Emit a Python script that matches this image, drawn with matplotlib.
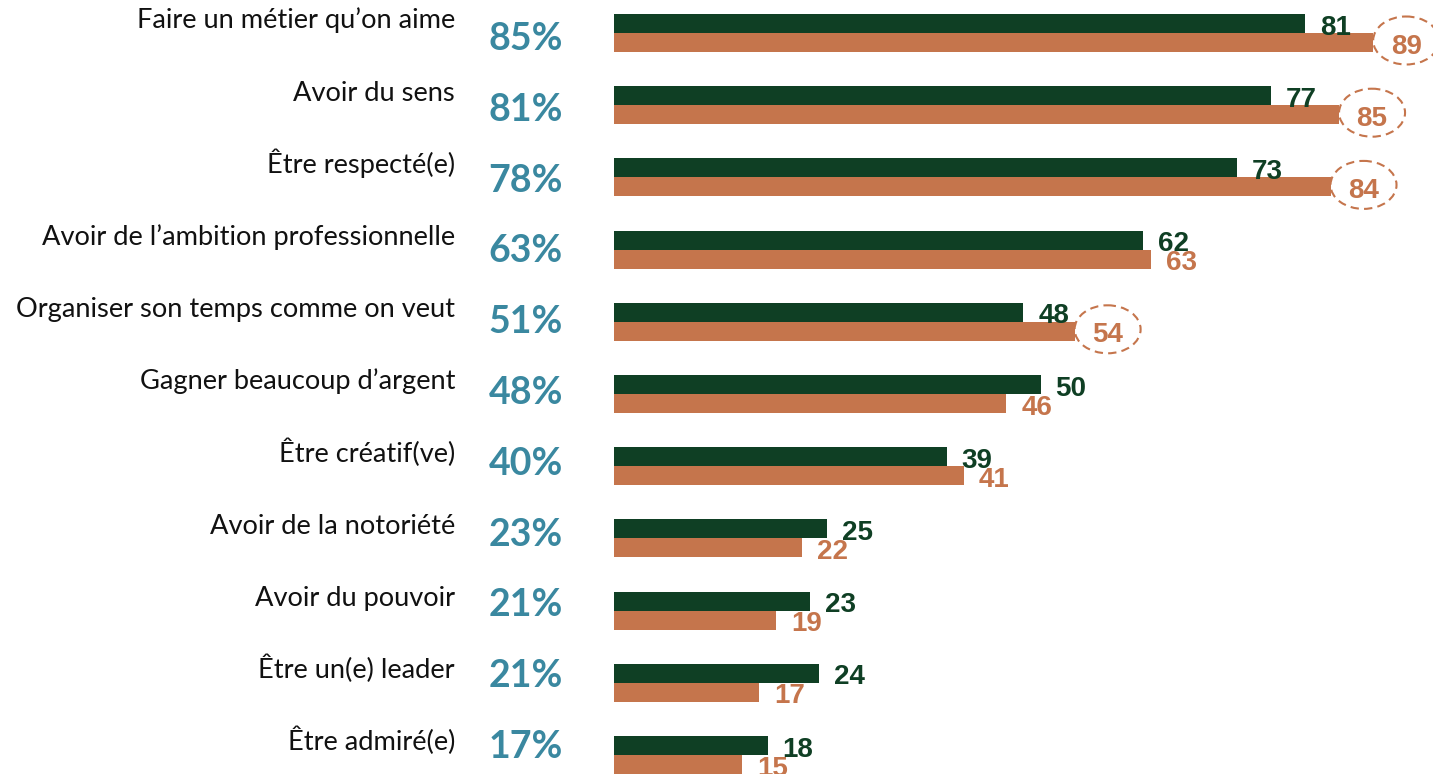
import matplotlib
matplotlib.use("Agg")
import matplotlib.pyplot as plt
from matplotlib import transforms
from matplotlib.patches import Ellipse

# Data
categories = [
    "Faire un métier qu\u2019on aime",
    "Avoir du sens",
    "Être respecté(e)",
    "Avoir de l\u2019ambition professionnelle",
    "Organiser son temps comme on veut",
    "Gagner beaucoup d\u2019argent",
    "Être créatif(ve)",
    "Avoir de la notoriété",
    "Avoir du pouvoir",
    "Être un(e) leader",
    "Être admiré(e)",
]
totals = [85, 81, 78, 63, 51, 48, 40, 23, 21, 21, 17]
green_vals = [81, 77, 73, 62, 48, 50, 39, 25, 23, 24, 18]
orange_vals = [89, 85, 84, 63, 54, 46, 41, 22, 19, 17, 15]
circled = [True, True, True, False, True, False, False, False, False, False, False]

GREEN = "#0f3f24"
ORANGE = "#c5754c"
TEAL = "#3a88a0"

W, H = 1433, 774
fig = plt.figure(figsize=(W / 100, H / 100), dpi=100)

# bar axes: zero at x=614 px, 8.53 px per unit; one row = 72.2 px
px_unit = 8.53
row_px = 72.2
bar_h = 19 / row_px
ax = fig.add_axes([614 / W, 0, 1 - 614 / W, 1])
ax.set_xlim(0, (W - 614) / px_unit)
ax.set_ylim((H - 14) / row_px, -14 / row_px)
ax.axis("off")

rows = list(range(len(categories)))
g_y = [r + bar_h / 2 for r in rows]
o_y = [r + 1.5 * bar_h for r in rows]
ax.barh(g_y, green_vals, height=bar_h, color=GREEN, edgecolor="none")
ax.barh(o_y, orange_vals, height=bar_h, color=ORANGE, edgecolor="none")

dx = 15 / px_unit          # gap between bar end and label
dy = 11 / row_px           # baseline below bar centre
for r in rows:
    ax.text(green_vals[r] + dx, g_y[r] + dy, str(green_vals[r]), color=GREEN,
            family="Liberation Sans", weight="bold", fontsize=20, ha="left", va="baseline")
    if circled[r]:
        cx = orange_vals[r] + 33 / px_unit
        cy = o_y[r] - 2 / row_px
        ax.add_patch(Ellipse((cx, cy), 66 / px_unit, 48 / row_px, fill=False,
                             edgecolor=ORANGE, linestyle=(0, (4, 2.5)), linewidth=1.5, clip_on=False))
        ax.text(cx, o_y[r] + dy, str(orange_vals[r]), color=ORANGE,
                family="Liberation Sans", weight="bold", fontsize=20, ha="center", va="baseline")
    else:
        ax.text(orange_vals[r] + dx, o_y[r] + dy, str(orange_vals[r]), color=ORANGE,
                family="Liberation Sans", weight="bold", fontsize=20, ha="left", va="baseline")

# category labels, right-aligned at x=455 px
lab_tr = transforms.blended_transform_factory(fig.transFigure, ax.transData)
for r in rows:
    ax.text(455 / W, r + 0.2, categories[r], transform=lab_tr, ha="right", va="baseline",
            family="Lato", fontsize=19.6, color="#111111")

# total percentages in teal
for r in rows:
    fig.text(526 / W, 1 - (50 + 70.8 * r) / H, f"{totals[r]}%", ha="center", va="baseline",
             family="Lato", weight="bold", fontsize=27, color=TEAL)

fig.savefig("out.png", dpi=100)
